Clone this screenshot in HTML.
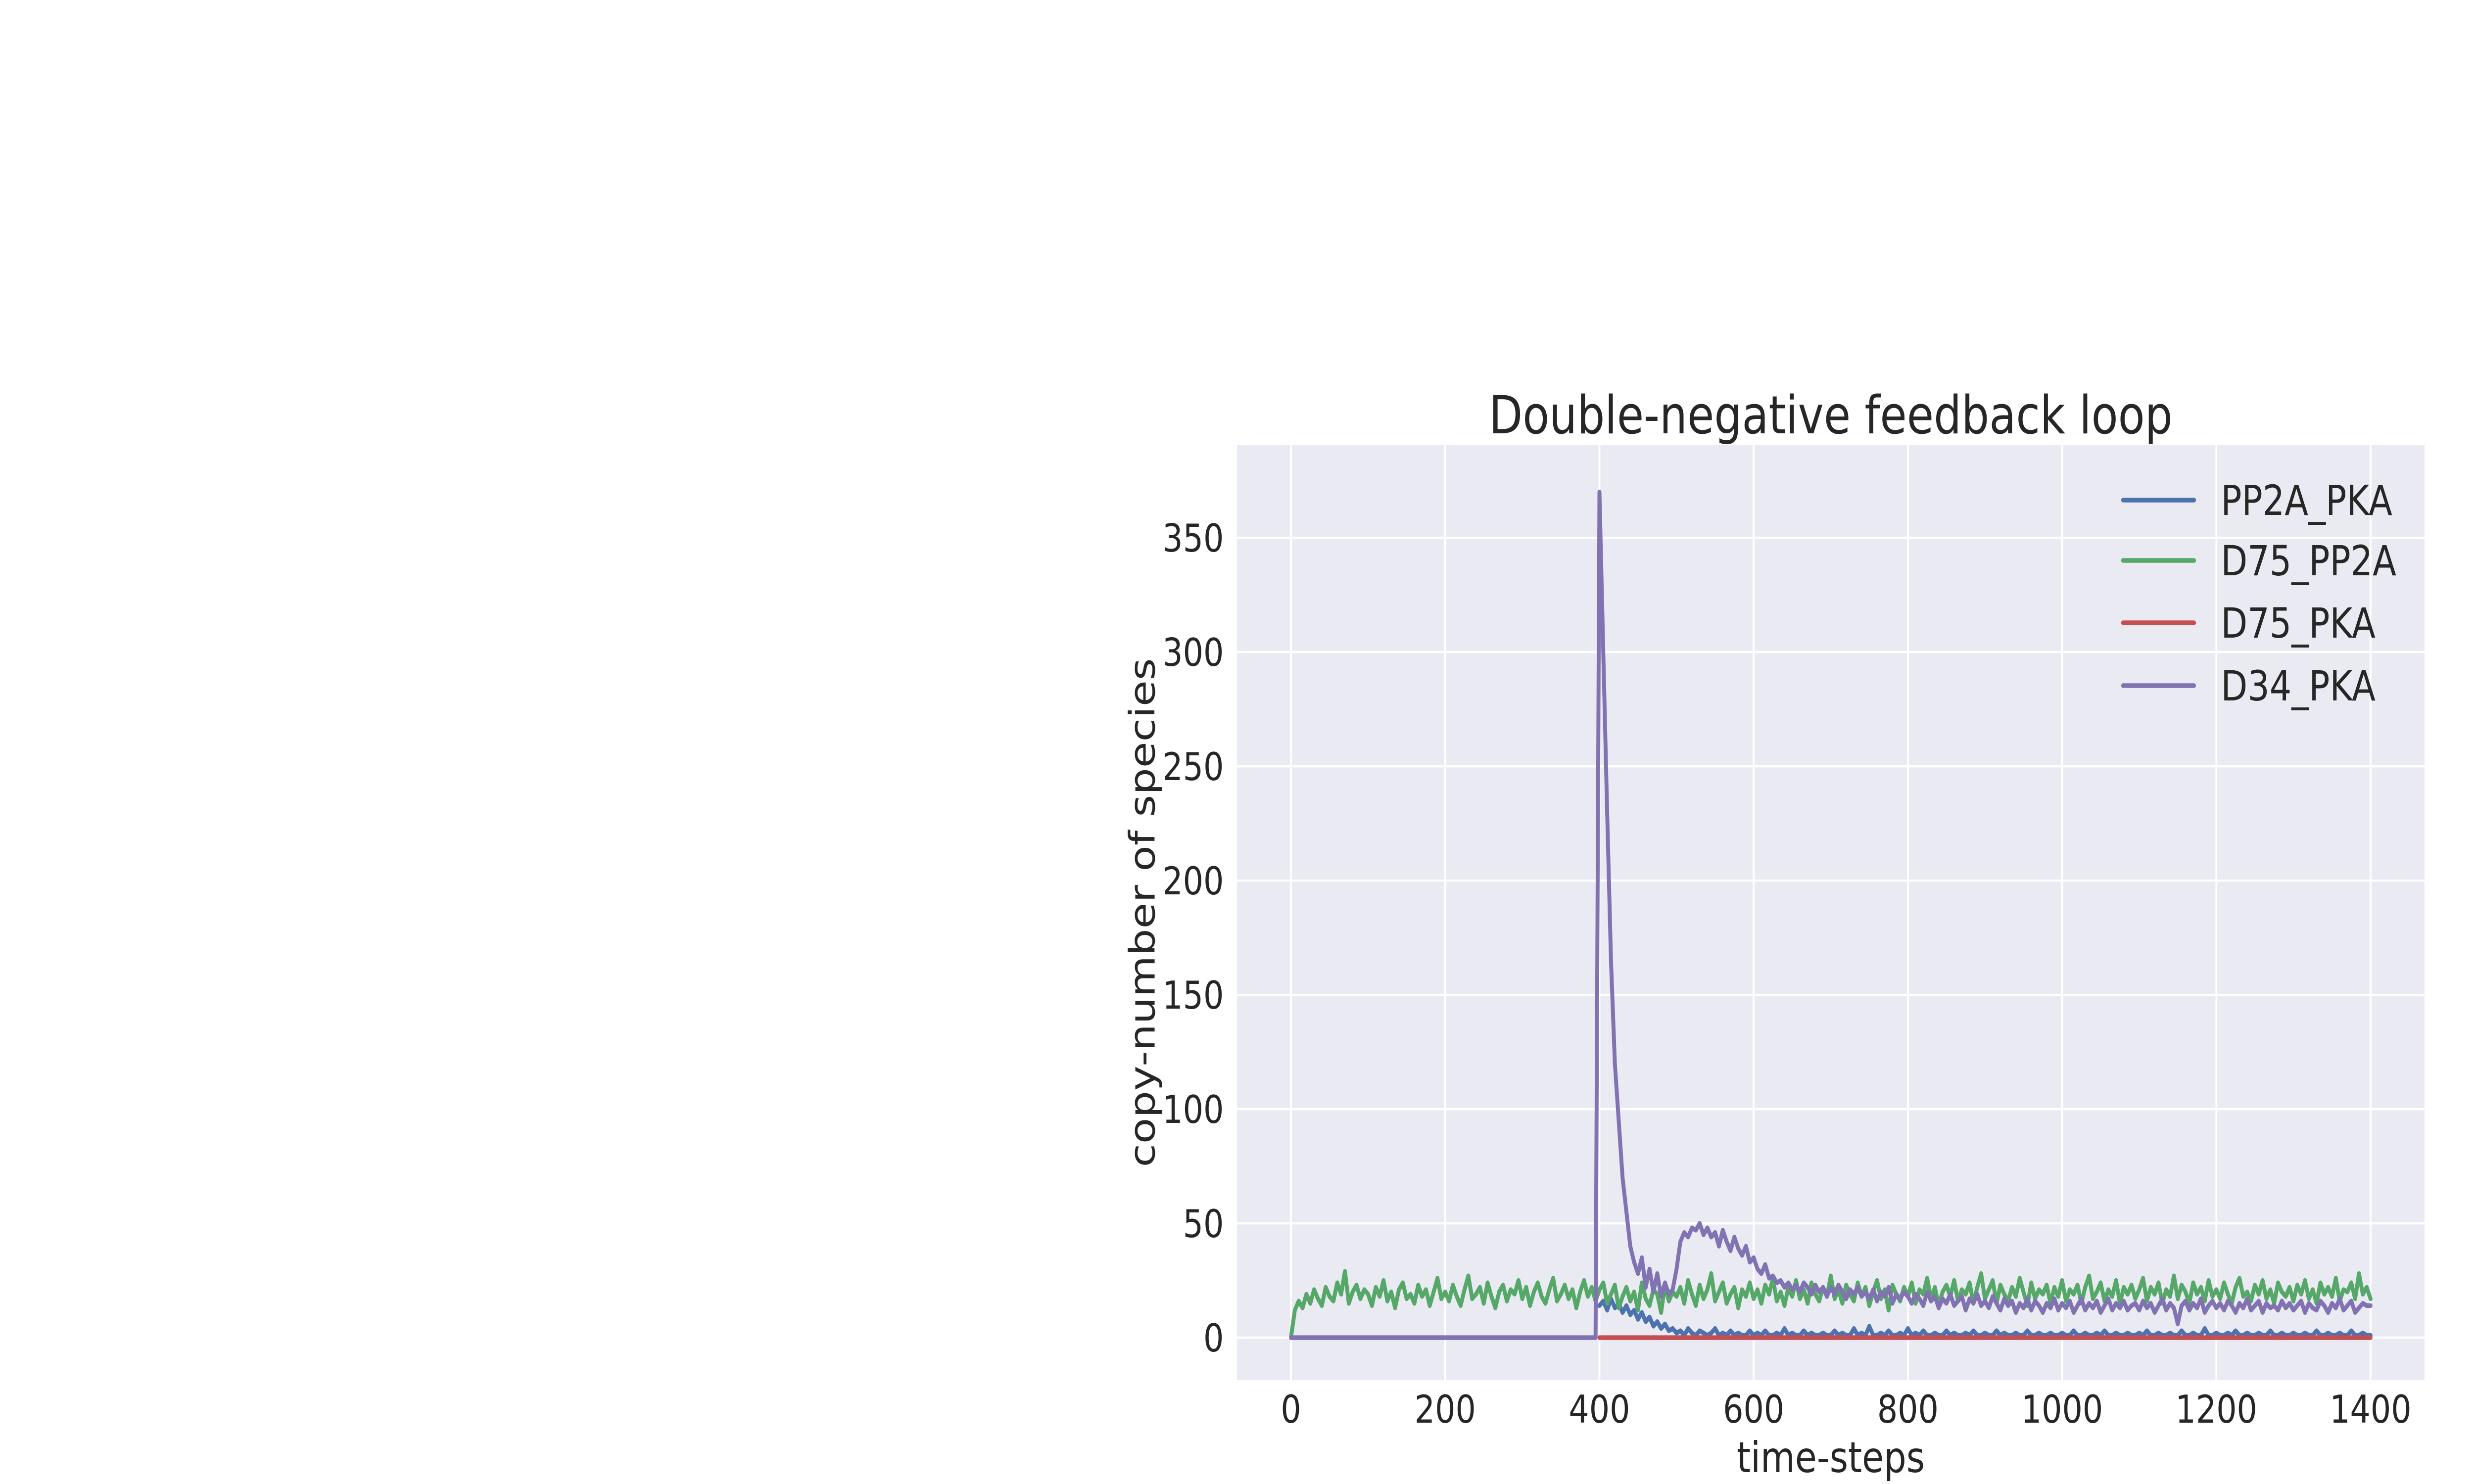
<!DOCTYPE html>
<html><head><meta charset="utf-8"><style>
html,body{margin:0;padding:0;background:#fff;width:100%;height:100%;overflow:hidden;}
svg{display:block;width:100vw;height:100vh;font-family:"DejaVu Sans","Liberation Sans",sans-serif;}
</style></head><body>
<svg id="chart" viewBox="0 0 6000 3000" preserveAspectRatio="none" xmlns="http://www.w3.org/2000/svg">
<defs><clipPath id="clip"><rect x="3000" y="900" width="2880" height="1890"/></clipPath></defs>
<rect x="3000" y="900" width="2880" height="1890" fill="#eaeaf2"/>
<g id="grid"></g>
<g id="series" clip-path="url(#clip)"></g>
<g id="ticks" fill="#262626" font-size="78"></g>
<text x="4440" y="876" text-anchor="middle" font-size="106" fill="#262626">Double-negative feedback loop</text>
<text x="4440" y="2976" text-anchor="middle" font-size="86" fill="#262626">time-steps</text>
<text transform="translate(2800,1845) rotate(-90)" text-anchor="middle" font-size="86" fill="#262626">copy-number of species</text>
<g id="legend" font-size="84" fill="#262626"></g>
</svg>
<script>
const xTicks=[0,200,400,600,800,1000,1200,1400];
const yTicks=[0,50,100,150,200,250,300,350];
const seriesNames=["PP2A_PKA","D75_PP2A","D75_PKA","D34_PKA"];
const seriesColors=["#4c72b0","#55a868","#c44e52","#8172b2"];
const d75pp2aStart=0, d75pp2aStep=5;
const d75pp2a=[0,12,16,13,19,15,21,17,14,22,18,16,24,19,29,15,20,23,17,21,
19,14,22,18,25,16,20,13,21,24,17,19,15,23,18,21,14,20,26,17,
20,16,23,18,14,21,27,17,19,22,15,24,18,13,20,23,16,21,19,25,
17,22,14,20,24,18,15,21,26,16,19,23,17,21,13,20,25,18,22,16,
21,24,15,19,23,13,18,22,16,20,12,24,17,14,21,19,11,23,16,20,
18,22,15,25,19,14,23,17,21,28,16,20,24,15,19,22,13,21,18,24,
17,21,15,23,19,26,16,20,14,22,18,25,17,21,15,24,19,16,22,18,
27,17,21,15,23,19,16,24,18,22,14,20,25,17,21,12,23,19,16,22,
18,24,15,21,19,26,17,22,14,20,23,18,25,16,21,19,24,15,22,28,
17,21,25,15,23,19,16,22,18,26,20,14,24,17,21,19,23,15,22,18,
25,16,21,19,23,15,22,27,17,20,24,16,21,18,25,15,22,19,23,17,
21,26,16,22,19,24,15,21,18,27,17,23,20,15,24,19,22,16,25,18,
21,17,24,19,15,22,26,18,20,16,23,19,25,17,21,15,24,20,18,22,
16,23,19,25,17,21,15,24,19,22,18,26,16,21,20,24,17,28,19,22,17];
const pp2aPkaStart=400, pp2aPkaStep=5;
const pp2aPka=[14,16,12,17,13,15,11,14,10,12,8,11,7,9,5,7,4,6,3,4,
2,3,1,4,2,1,3,2,1,2,4,1,2,1,3,1,2,1,1,3,
1,2,1,3,1,1,2,1,4,1,2,1,1,3,1,2,1,1,2,1,
1,3,1,2,1,1,4,1,2,1,5,1,1,2,1,3,1,1,2,1,
4,1,2,1,3,1,1,2,1,1,3,1,2,1,1,2,1,3,1,1,
2,1,1,3,1,2,1,1,2,1,1,3,1,1,2,1,1,2,1,1,
2,1,1,3,1,1,2,1,1,2,1,3,1,1,2,1,1,2,1,1,
2,1,3,1,1,2,1,1,2,1,1,3,1,1,2,1,1,4,1,1,
2,1,1,2,1,3,1,1,2,1,1,2,1,1,3,1,1,2,1,1,
2,1,1,2,1,1,3,1,1,2,1,1,2,1,1,3,1,1,2,1,1];
const d75PkaStart=400, d75PkaStep=50;
const d75Pka=[0,0,0,0,0,0,0,0,0,0,0,0,0,0,0,0,0,0,0,0,0];
const d34PreTimes=[0,395];
const d34PreValues=[0,0];
const d34PkaStart=400, d34PkaStep=5;
const d34Pka=[370,300,230,165,120,95,70,55,40,33,28,35,22,30,20,28,18,24,19,21,
30,42,46,44,48,47,50,45,48,44,46,40,47,42,38,44,39,36,40,33,
35,30,28,32,26,27,24,25,22,24,21,23,20,24,22,19,23,20,22,18,
22,19,23,20,17,21,19,22,18,20,17,21,16,20,18,22,15,19,17,20,
18,15,19,17,14,20,16,18,13,17,15,19,14,16,18,12,17,15,19,14,
16,13,18,15,12,17,14,16,11,15,13,17,12,16,14,11,15,13,17,12,
15,13,16,11,14,17,12,15,13,16,11,14,17,12,15,13,16,12,14,15,
12,16,13,15,11,14,17,12,15,13,6,14,16,12,15,13,17,11,14,16,
13,15,12,16,14,11,15,13,17,12,14,16,11,15,13,14,12,16,13,15,
12,14,16,11,15,13,12,16,14,11,15,13,17,12,14,16,11,13,15,14,14];

const X0=3000,X1=5880,Y0=900,Y1=2790;
const xMin=-70,xMax=1470,yMin=-18.6,yMax=390.5;
function xs(v){return X0+(v-xMin)/(xMax-xMin)*(X1-X0);}
function ys(v){return Y1-(v-yMin)/(yMax-yMin)*(Y1-Y0);}
const NS="http://www.w3.org/2000/svg";
function mk(tag,attrs,parent){const e=document.createElementNS(NS,tag);for(const k in attrs)e.setAttribute(k,attrs[k]);parent.appendChild(e);return e;}
const grid=document.getElementById('grid'),ticks=document.getElementById('ticks');
xTicks.forEach(t=>{
  const l=mk('line',{x1:xs(t),x2:xs(t),y1:Y0,y2:Y1,stroke:'#fff','stroke-width':4.5},grid);
  
  
  const tx=mk('text',{x:xs(t),y:2876,'text-anchor':'middle'},ticks);
  tx.textContent=t;
  
  
});
yTicks.forEach(t=>{
  const l=mk('line',{x1:X0,x2:X1,y1:ys(t),y2:ys(t),stroke:'#fff','stroke-width':4.5},grid);
  
  
  const tx=mk('text',{x:2968,y:ys(t)+28,'text-anchor':'end'},ticks);
  tx.textContent=t;
  
  
});
function pts(start,step,vals){return vals.map((v,i)=>[start+i*step,v]);}
const seriesPts=[
  pts(pp2aPkaStart,pp2aPkaStep,pp2aPka),
  pts(d75pp2aStart,d75pp2aStep,d75pp2a),
  pts(d75PkaStart,d75PkaStep,d75Pka),
  d34PreTimes.map((t,i)=>[t,d34PreValues[i]]).concat(pts(d34PkaStart,d34PkaStep,d34Pka))
];
const sg=document.getElementById('series');
seriesPts.forEach((p,i)=>{
  const d=p.map((q,j)=>(j?'L':'M')+xs(q[0]).toFixed(1)+' '+ys(q[1]).toFixed(1)).join(' ');
  const path=mk('path',{d:d,fill:'none',stroke:seriesColors[i],'stroke-width':9.5,'stroke-linejoin':'round','stroke-linecap':'round'},sg);
  
  
});
const lg=document.getElementById('legend');
const legendY=[1011,1133,1259,1386];
seriesNames.forEach((n,i)=>{
  const g=mk('g',{},lg);
  
  
  mk('line',{x1:5149,x2:5321,y1:legendY[i],y2:legendY[i],stroke:seriesColors[i],'stroke-width':9.5,'stroke-linecap':'round'},g);
  const t=mk('text',{x:5386,y:legendY[i]+30},g);
  t.textContent=n;
});
</script>
</body></html>
